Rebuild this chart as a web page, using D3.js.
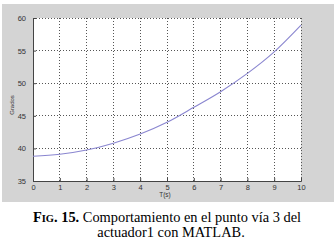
<!DOCTYPE html>
<html><head><meta charset="utf-8">
<script src="https://cdn.jsdelivr.net/npm/d3@7"></script>
<style>body{margin:0;background:#fff}svg{display:block}</style>
</head><body>
<svg id="c" width="334" height="244"></svg>
<script>
const tValues = [0,1,2,3,4,5,6,7,8,9,10];
const gradosValues = [38.8,39.1,39.75,40.8,42.2,44.0,46.3,48.7,51.5,54.8,58.9];
const xTicks = [0,1,2,3,4,5,6,7,8,9,10];
const yTicks = [35,40,45,50,55,60];
const xLabel = "T(s)";
const yLabel = "Grados";
const captionLine2 = "actuador1 con MATLAB.";

const svg = d3.select("#c");
svg.append("rect").attr("x",2).attr("y",4).attr("width",332).attr("height",198).attr("fill","#d4d4d4");

const L=33,R=301,T=18,B=181;
const x = d3.scaleLinear().domain([0,10]).range([L,R]);
const y = d3.scaleLinear().domain([35,60]).range([B,T]);

svg.append("rect").attr("x",L).attr("y",T).attr("width",R-L).attr("height",B-T).attr("fill","#fff");

// grid
const g = svg.append("g");
g.selectAll(".vg").data(xTicks.slice(1)).join("line")
 .attr("x1",d=>x(d)).attr("x2",d=>x(d)).attr("y1",T).attr("y2",B)
 .attr("stroke","#555").attr("stroke-width",1).attr("stroke-dasharray","1,2").attr("shape-rendering","crispEdges");
g.selectAll(".hg").data(yTicks.slice(1)).join("line")
 .attr("x1",L).attr("x2",R).attr("y1",d=>y(d)).attr("y2",d=>y(d))
 .attr("stroke","#555").attr("stroke-width",1).attr("stroke-dasharray","1,2").attr("shape-rendering","crispEdges");

// axes
const xa = svg.append("g").attr("transform",`translate(0,${B})`)
 .call(d3.axisBottom(x).tickValues(xTicks).tickSize(-3).tickPadding(4).tickFormat(d3.format("d")));
const ya = svg.append("g").attr("transform",`translate(${L},0)`)
 .call(d3.axisLeft(y).tickValues(yTicks).tickSize(-3).tickPadding(7).tickFormat(d3.format("d")));
[xa,ya].forEach(a=>{
  a.select(".domain").attr("stroke","#444");
  a.selectAll(".tick line").attr("stroke","#444");
  a.selectAll("text").attr("fill","#333").style("font-family","Liberation Sans, Arial, sans-serif").style("font-size","7.5px");
});

// line
svg.append("path").datum(tValues.map((t,i)=>[t,gradosValues[i]]))
 .attr("fill","none").attr("stroke","#8a86d0").attr("stroke-width",1.1)
 .attr("d",d3.line().x(d=>x(d[0])).y(d=>y(d[1])).curve(d3.curveMonotoneX));

svg.append("text").attr("x",165).attr("y",197).attr("text-anchor","middle")
 .attr("fill","#333").style("font-family","Liberation Sans, Arial, sans-serif").style("font-size","6.5px").text(xLabel);
svg.append("text").attr("transform","translate(14,105) rotate(-90)").attr("text-anchor","middle")
 .attr("fill","#333").style("font-family","Liberation Sans, Arial, sans-serif").style("font-size","6px").text(yLabel);

// caption
const cap = svg.append("text").attr("x",167).attr("y",222).attr("text-anchor","middle")
 .style("font-family","Liberation Serif, Times New Roman, serif").style("font-size","14.4px").attr("fill","#000");
cap.append("tspan").attr("font-weight","bold").text("F");
cap.append("tspan").attr("font-weight","bold").style("font-size","10.5px").text("IG");
cap.append("tspan").attr("font-weight","bold").text(". 15.");
cap.append("tspan").text(" Comportamiento en el punto vía 3 del");
svg.append("text").attr("x",171).attr("y",237).attr("text-anchor","middle")
 .style("font-family","Liberation Serif, Times New Roman, serif").style("font-size","14.4px").attr("fill","#000").text(captionLine2);
</script>
</body></html>
